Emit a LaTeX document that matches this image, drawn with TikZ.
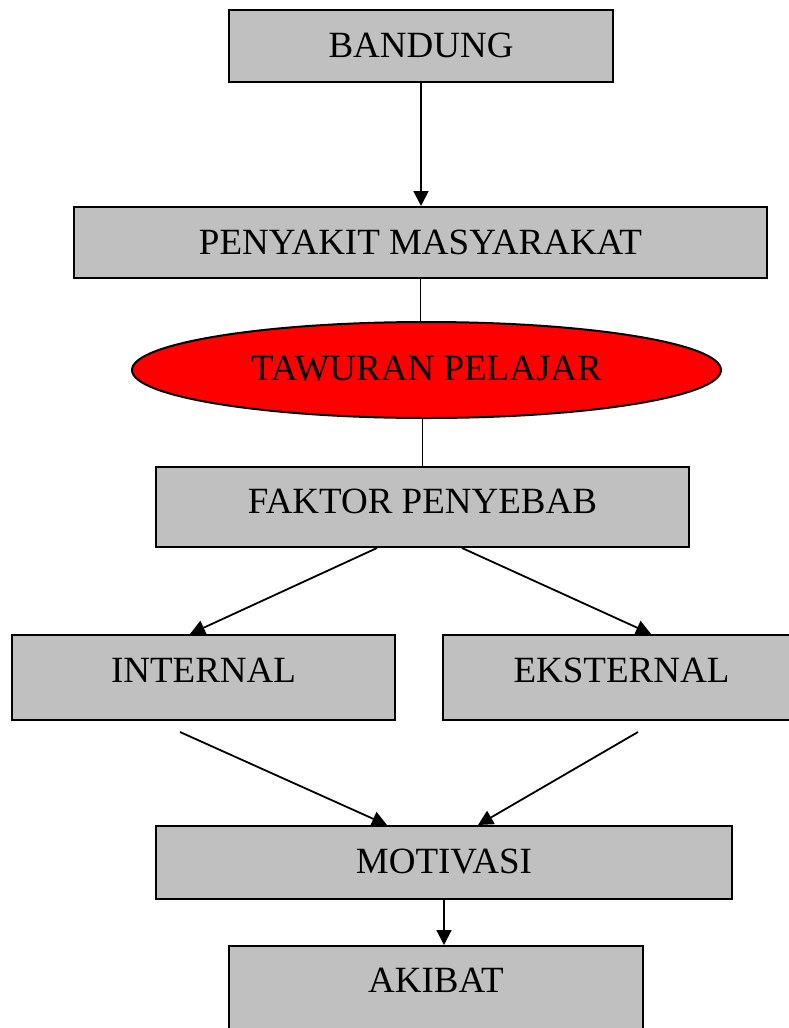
\documentclass[tikz,border=0pt]{standalone}
\usepackage{fontspec}
\setmainfont{Liberation Serif}
\usetikzlibrary{arrows.meta,shapes.geometric}
\definecolor{boxgray}{RGB}{192,192,192}

\begin{document}
\begin{tikzpicture}[x=1pt, y=-1pt,
  box/.style={draw, fill=boxgray, line width=2pt, inner sep=0pt,
    align=center, anchor=base, font=\fontsize{37}{40}\selectfont},
  link/.style={line width=1.8pt},
  arr/.style={link, -{Triangle[length=15pt,width=15pt]}}]
\useasboundingbox (0,0) rectangle (789,1028);

\node (bandung) [box, minimum width=384pt, text height=47pt, text depth=25pt] at (421,57) {BANDUNG};
\node (penyakit) [box, minimum width=693pt, text height=47pt, text depth=24pt] at (420.5,254) {PENYAKIT MASYARAKAT};
\node (tawuran) [draw, fill=red, line width=2pt, ellipse, inner sep=0pt,
  minimum width=589pt, minimum height=96pt, text height=25pt, text depth=5pt,
  font=\fontsize{37}{40}\selectfont] at (426.5,370) {TAWURAN PELAJAR};
\node (faktor) [box, minimum width=533pt, text height=46pt, text depth=34pt] at (422.5,513) {FAKTOR PENYEBAB};
\node (internal) [box, minimum width=383pt, text height=47pt, text depth=38pt] at (203.5,682) {INTERNAL};
\node (eksternal) [box, minimum width=357pt, text height=47pt, text depth=38pt] at (621.5,682) {EKSTERNAL};
\node (motivasi) [box, minimum width=576pt, text height=47pt, text depth=26pt] at (444,873) {MOTIVASI};
\node (akibat) [box, minimum width=414pt, text height=46pt, text depth=48pt] at (436,992) {AKIBAT};

% connectors
\draw[arr] (bandung.south) -- (bandung.south |- penyakit.north);
\draw[link] (penyakit.south) -- (penyakit.south |- tawuran.north);
\draw[link] (faktor.north |- tawuran.south) -- (faktor.north);
\draw[arr] ([xshift=-45.5pt]faktor.south) -- ([xshift=-13.5pt]internal.north);
\draw[arr] ([xshift=39.5pt]faktor.south) -- ([xshift=29.5pt]eksternal.north);
\draw[arr] ([xshift=-23.5pt, yshift=-11pt]internal.south) -- ([xshift=-57pt]motivasi.north);
\draw[arr] ([xshift=16.5pt, yshift=-11pt]eksternal.south) -- ([xshift=34pt]motivasi.north);
\draw[arr] (motivasi.south) -- (motivasi.south |- akibat.north);
\end{tikzpicture}
\end{document}
